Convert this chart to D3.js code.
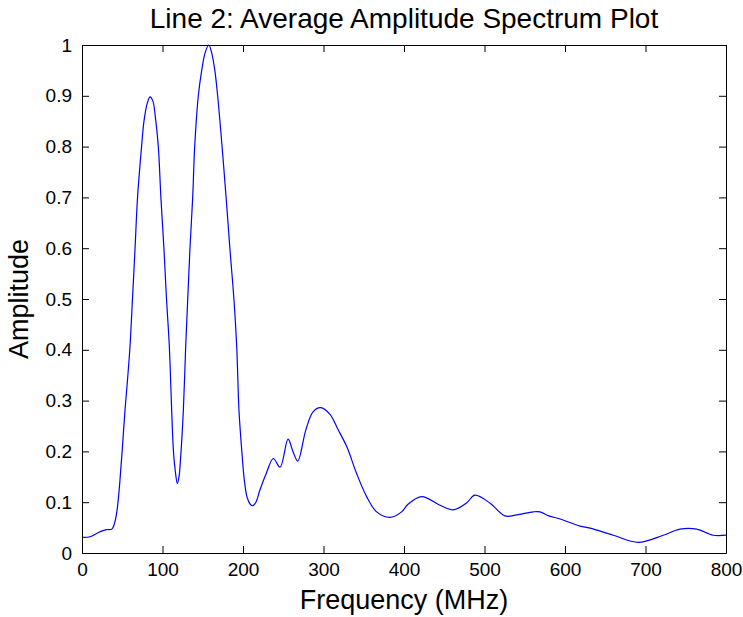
<!DOCTYPE html>
<html>
<head>
<meta charset="utf-8">
<script src="https://cdn.jsdelivr.net/npm/d3@7"></script>
<style>
  body { margin: 0; background: #fff; }
  svg text { font-family: "Liberation Sans", Arial, Helvetica, sans-serif; fill: #000; }
</style>
</head>
<body>
<div id="chart"></div>
<script>
// Data
const freq = [0, 10, 20, 30, 37, 41, 44, 47, 50, 53.4, 56.5, 59.6, 62.7, 65.8, 69, 74, 77, 81, 84.5,
  88, 91, 94.8, 98, 101.9, 105, 108.5, 111.4, 113.5, 116, 118.4, 120.5, 122.6, 125.9, 128.8, 131.3,
  134, 137.5, 140, 144.5, 148.7, 153, 157.5, 161, 165, 168.5, 174, 179, 183.9, 188.8, 192.2, 195,
  198.4, 201.6, 205, 209, 212, 216, 221, 229, 237.7, 246, 256, 262, 268, 278, 287, 296.5, 308,
  318.4, 329, 341, 353.6, 366, 382.6, 397, 405, 422, 444.7, 461, 478, 488, 507, 525.5, 540, 560.6,
  569, 580, 594, 618.6, 631, 660, 691, 722, 743, 763.6, 784, 800];
const amplitude = [0.031, 0.032, 0.04, 0.046, 0.047, 0.062, 0.09, 0.14, 0.203, 0.281, 0.34, 0.406,
  0.5, 0.596, 0.7, 0.8, 0.85, 0.885, 0.898, 0.89, 0.86, 0.8, 0.7, 0.596, 0.5, 0.406, 0.281, 0.203,
  0.16, 0.137, 0.15, 0.19, 0.281, 0.406, 0.498, 0.596, 0.7, 0.8, 0.9, 0.95, 0.985, 1.0, 0.985, 0.95,
  0.9, 0.8, 0.7, 0.596, 0.498, 0.406, 0.281, 0.203, 0.144, 0.11, 0.096, 0.093, 0.1, 0.124, 0.157,
  0.186, 0.169, 0.224, 0.2, 0.181, 0.242, 0.278, 0.286, 0.273, 0.242, 0.209, 0.157, 0.111, 0.081,
  0.07, 0.081, 0.096, 0.111, 0.094, 0.085, 0.099, 0.114, 0.098, 0.073, 0.075, 0.081, 0.081, 0.073,
  0.067, 0.053, 0.049, 0.035, 0.021, 0.035, 0.047, 0.047, 0.035, 0.035];
const xTicks = [0, 100, 200, 300, 400, 500, 600, 700, 800];
const yTicks = [0, 0.1, 0.2, 0.3, 0.4, 0.5, 0.6, 0.7, 0.8, 0.9, 1];

const title = "Line 2: Average Amplitude Spectrum Plot";
const xAxisLabel = "Frequency (MHz)";
const yAxisLabel = "Amplitude";

// Size and margins
const margin = { top: 45, right: 17, bottom: 64, left: 82 },
    width = 743 - margin.left - margin.right,
    height = 617 - margin.top - margin.bottom;

const svg = d3.select("#chart")
    .append("svg")
    .attr("width", width + margin.left + margin.right)
    .attr("height", height + margin.top + margin.bottom)
    .append("g")
    .attr("transform", "translate(" + margin.left + "," + margin.top + ")");

const x = d3.scaleLinear().domain([0, 800]).range([0, width]);
const y = d3.scaleLinear().domain([0, 1]).range([height, 0]);

const data = freq.map((f, i) => ({ f: f, a: amplitude[i] }));

// Line
svg.append("path")
    .datum(data)
    .attr("fill", "none")
    .attr("stroke", "#0000ff")
    .attr("stroke-width", 1.2)
    .attr("d", d3.line()
        .x(d => x(d.f))
        .y(d => y(d.a))
        .curve(d3.curveCatmullRom.alpha(0.5))
    );

// Axes, MATLAB style: ticks inside, box on all sides
const tickLen = 7;
svg.append("g")
    .attr("class", "axis")
    .attr("transform", "translate(0," + height + ")")
    .call(d3.axisBottom(x).tickValues(xTicks).tickSizeInner(-tickLen).tickSizeOuter(0).tickPadding(10))
    .call(g => g.selectAll("text").style("font-size", "19px"));

svg.append("g")
    .attr("class", "axis")
    .call(d3.axisTop(x).tickValues(xTicks).tickSizeInner(-tickLen).tickSizeOuter(0).tickFormat(""));

svg.append("g")
    .attr("class", "axis")
    .call(d3.axisLeft(y).tickValues(yTicks).tickFormat(d => String(d)).tickSizeInner(-tickLen).tickSizeOuter(0).tickPadding(10))
    .call(g => g.selectAll("text").style("font-size", "19px"));

svg.append("g")
    .attr("class", "axis")
    .attr("transform", "translate(" + width + ",0)")
    .call(d3.axisRight(y).tickValues(yTicks).tickSizeInner(-tickLen).tickSizeOuter(0).tickFormat(""));

svg.selectAll(".axis path, .axis line").attr("stroke", "#000").attr("stroke-width", 1);
svg.selectAll(".axis text").attr("fill", "#000");

// Labels
svg.append("text")
    .attr("x", width / 2)
    .attr("y", height + 56)
    .attr("text-anchor", "middle")
    .style("font-size", "27px")
    .text(xAxisLabel);

svg.append("text")
    .attr("transform", "rotate(-90)")
    .attr("x", -height / 2)
    .attr("y", -54)
    .attr("text-anchor", "middle")
    .style("font-size", "27px")
    .text(yAxisLabel);

// Title
svg.append("text")
    .attr("x", width / 2)
    .attr("y", -17)
    .attr("text-anchor", "middle")
    .style("font-size", "28px")
    .text(title);
</script>
</body>
</html>
